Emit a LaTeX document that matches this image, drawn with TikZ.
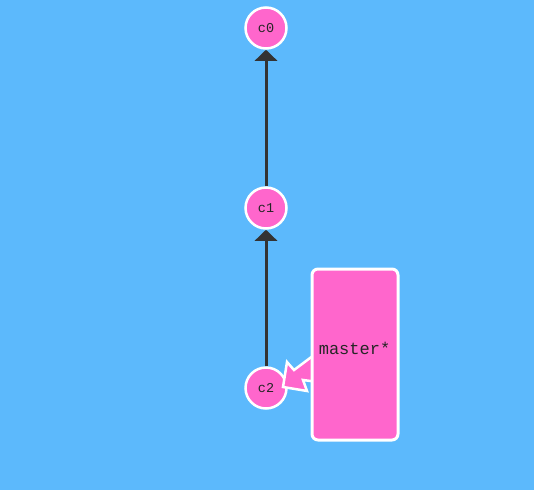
\documentclass[tikz,border=0pt]{standalone}
\usepackage{fontspec}
\setmonofont{Liberation Mono}
\usetikzlibrary{arrows.meta}
\definecolor{bg}{HTML}{5CB9FC}
\definecolor{pk}{HTML}{FF66CC}
\definecolor{dk}{HTML}{333333}
\begin{document}
\begin{tikzpicture}[x=1pt,y=-1pt,
  commit/.style={circle,draw=white,line width=2.5pt,fill=pk,minimum size=41pt,inner sep=0pt,font=\ttfamily\fontsize{13.5}{13.5}\selectfont,text=black!85},
  parentedge/.style={draw=dk,line width=3pt,-{Triangle[width=22pt,length=11pt]}},
  branch/.style={rectangle,rounded corners=6pt,draw=white,line width=3pt,fill=pk,minimum width=86pt,minimum height=171pt,inner sep=0pt,font=\ttfamily\fontsize{17}{17}\selectfont,text=black!85}]
\fill[bg] (0,0) rectangle (534,490);
\useasboundingbox (0,0) rectangle (534,490);
\node[commit] (c0) at (266,28) {c0};
\node[commit] (c1) at (266,208) {c1};
\node[commit] (c2) at (266,388) {c2};
\draw[parentedge] (c1) -- (c0);
\draw[parentedge] (c2) -- (c1);
\coordinate (tip) at (283,387);
\draw[white,line width=2.5pt,fill=pk,line join=miter] (tip) -- (287,362) -- (294,370) -- (318,352) -- (318,382) -- (303,380) -- (307,391) -- cycle;
\node[branch] (master) at (355,354.5) {};
\node[font=\ttfamily\fontsize{17}{17}\selectfont,text=black!85] at (354.5,348) {master*};
\end{tikzpicture}
\end{document}
